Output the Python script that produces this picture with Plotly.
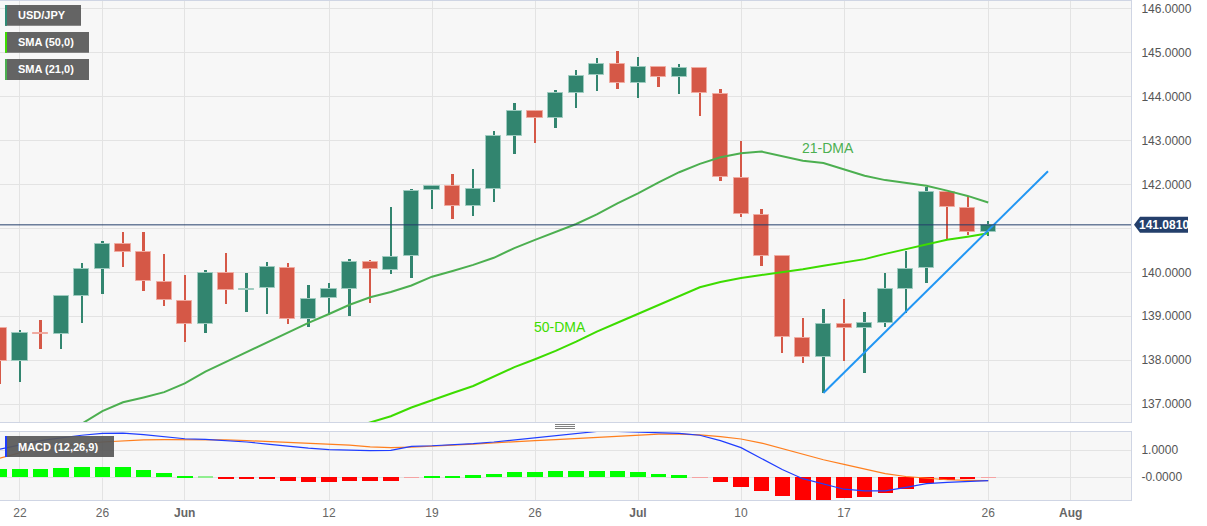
import plotly.graph_objects as go

# ---------------- data ----------------
day_index = list(range(-1, 48))  # trading-day index, 0 = 22 May
dates = ["May19", "May22", "May23", "May24", "May25", "May26", "May29", "May30", "May31", "Jun1", "Jun2",
         "Jun5", "Jun6", "Jun7", "Jun8", "Jun9", "Jun12", "Jun13", "Jun14", "Jun15", "Jun16",
         "Jun19", "Jun20", "Jun21", "Jun22", "Jun23", "Jun26", "Jun27", "Jun28", "Jun29", "Jun30",
         "Jul3", "Jul4", "Jul5", "Jul6", "Jul7", "Jul10", "Jul11", "Jul12", "Jul13", "Jul14",
         "Jul17", "Jul18", "Jul19", "Jul20", "Jul21", "Jul24", "Jul25", "Jul26"]
opens = [138.72, 137.98, 138.61, 138.59, 139.47, 140.08, 140.64, 140.46, 139.79, 139.35, 138.82,
         139.98, 139.60, 139.65, 140.09, 138.94, 139.41, 139.61, 140.23, 140.05, 140.38,
         141.88, 141.97, 141.52, 141.89, 143.11, 143.68, 143.51, 144.09, 144.50, 144.74,
         144.32, 144.67, 144.46, 144.65, 144.06, 142.14, 141.31, 140.37, 138.50, 138.07,
         138.82, 138.74, 138.84, 139.62, 140.09, 141.82, 141.47, 140.91]
highs = [138.75, 138.69, 138.92, 139.48, 140.21, 140.72, 140.91, 140.91, 140.42, 139.94, 140.05,
         140.44, 139.98, 140.23, 140.21, 139.71, 139.75, 140.30, 140.28, 141.48, 141.89,
         141.99, 142.24, 142.36, 143.22, 143.85, 143.70, 144.15, 144.61, 144.89, 145.04,
         144.91, 144.71, 144.74, 144.66, 144.18, 142.99, 141.44, 140.40, 138.95, 139.16,
         139.39, 139.10, 139.98, 140.49, 141.95, 141.84, 141.71, 141.17]
lows = [137.46, 137.49, 138.25, 138.25, 138.84, 139.50, 140.11, 139.58, 139.24, 138.42, 138.61,
        139.27, 139.10, 139.05, 138.82, 138.76, 139.03, 139.01, 139.30, 139.96, 139.87,
        141.44, 141.21, 141.29, 141.61, 142.69, 142.94, 143.28, 143.74, 144.12, 144.18,
        143.98, 144.21, 144.06, 143.55, 142.07, 141.27, 140.15, 138.17, 137.93, 137.25,
        137.99, 137.70, 138.76, 139.08, 139.75, 140.75, 140.85, 140.83]
closes = [137.98, 138.61, 138.59, 139.47, 140.07, 140.64, 140.47, 139.80, 139.36, 138.82, 139.98,
          139.60, 139.63, 140.11, 138.94, 139.39, 139.61, 140.23, 140.08, 140.36, 141.86,
          141.97, 141.51, 141.89, 143.10, 143.68, 143.51, 144.08, 144.48, 144.75, 144.32,
          144.67, 144.46, 144.65, 144.08, 142.16, 141.32, 140.38, 138.52, 138.07, 138.82,
          138.74, 138.84, 139.61, 140.08, 141.82, 141.48, 140.91, 141.08]

sma21_x = list(range(2, 48))
sma21 = [136.30, 136.55, 136.84, 137.04, 137.15, 137.27, 137.47, 137.74, 137.96, 138.18, 138.41,
         138.62, 138.85, 139.05, 139.26, 139.43, 139.55, 139.70, 139.90, 140.03, 140.17,
         140.33, 140.55, 140.74, 140.92, 141.10, 141.32, 141.57, 141.80, 142.05, 142.28,
         142.47, 142.62, 142.71, 142.75, 142.64, 142.54, 142.49, 142.35, 142.20, 142.10,
         142.03, 141.97, 141.86, 141.74, 141.59]
sma50_x = list(range(16, 48))
sma50 = [136.44, 136.58, 136.72, 136.92, 137.09, 137.25, 137.41, 137.63, 137.84, 138.02, 138.21,
         138.42, 138.65, 138.85, 139.05, 139.26, 139.46, 139.66, 139.78, 139.87, 139.94,
         140.00, 140.07, 140.15, 140.22, 140.30, 140.42, 140.53, 140.64, 140.74, 140.81, 140.89]

trend_x = [39, 49.9]
trend_y = [137.25, 142.30]
last_price = 141.081

macd_line = [1.03, 1.20, 1.35, 1.45, 1.55, 1.62, 1.63, 1.57, 1.50, 1.42, 1.40,
             1.36, 1.30, 1.22, 1.14, 1.07, 1.02, 1.00, 0.98, 0.99, 1.14,
             1.16, 1.19, 1.24, 1.30, 1.38, 1.46, 1.54, 1.62, 1.69, 1.69,
             1.67, 1.64, 1.62, 1.55, 1.35, 1.09, 0.70, 0.28, -0.06, -0.26,
             -0.45, -0.51, -0.51, -0.38, -0.24, -0.20, -0.16, -0.13]
macd_signal = [0.70, 0.90, 1.05, 1.15, 1.24, 1.30, 1.34, 1.38, 1.39, 1.39, 1.38,
               1.38, 1.35, 1.32, 1.29, 1.26, 1.22, 1.18, 1.12, 1.09, 1.11,
               1.14, 1.18, 1.22, 1.27, 1.32, 1.35, 1.39, 1.43, 1.48, 1.53,
               1.56, 1.59, 1.59, 1.56, 1.50, 1.41, 1.26, 1.05, 0.86, 0.64,
               0.47, 0.29, 0.13, 0.02, -0.05, -0.10, -0.12, -0.13]
macd_hist = [0.29, 0.29, 0.29, 0.33, 0.36, 0.38, 0.36, 0.27, 0.15, 0.04, 0.03,
             -0.04, -0.07, -0.07, -0.15, -0.19, -0.19, -0.15, -0.14, -0.13, -0.02,
             0.04, 0.04, 0.06, 0.13, 0.18, 0.19, 0.22, 0.23, 0.24, 0.21,
             0.17, 0.11, 0.07, -0.01, -0.18, -0.35, -0.51, -0.72, -0.86, -0.85,
             -0.79, -0.73, -0.60, -0.46, -0.23, -0.10, -0.06, -0.01]

tick_vals = [0, 4, 8, 15, 20, 25, 30, 35, 40, 47, 51]
tick_text = ["22", "26", "<b>Jun</b>", "12", "19", "26", "<b>Jul</b>", "10", "17", "26", "<b>Aug</b>"]
price_ticks = [137, 138, 139, 140, 141, 142, 143, 144, 145, 146]
price_tick_text = ["137.0000", "138.0000", "139.0000", "140.0000", "", "142.0000",
                   "143.0000", "144.0000", "145.0000", "146.0000"]

# ---------------- style ----------------
W, H = 1207, 526
ML, MR, MT, MB = 0, 76, 1, 26
PW, PH = W - ML - MR, H - MT - MB
GREEN = "#32856f"
GREEN_EDGE = "#9dcbbf"
RED = "#d55847"
RED_EDGE = "#f0aaa0"
GRID = "#e3e3e3"
BORDER = "#cfd5e4"
NAVY = "#243f6b"
FONT = "Liberation Sans, Arial, sans-serif"


def px(x):
    return (x - ML) / PW


def py(y):
    return (H - MB - y) / PH


up = [c >= o for o, c in zip(opens, closes)]
body_col = [GREEN if u else RED for u in up]
edge_col = [GREEN_EDGE if u else RED_EDGE for u in up]
body_base = [min(o, c) for o, c in zip(opens, closes)]
body_h = [max(abs(c - o), 0.025) for o, c in zip(opens, closes)]
wick_base = lows
wick_h = [h - l for h, l in zip(highs, lows)]

hist_col = []
for v in macd_hist:
    if v >= 0:
        hist_col.append("#90ee90" if v <= 0.03 else "#00ff00")
    else:
        hist_col.append("#f5a3a3" if v >= -0.03 else "#ff0000")

fig = go.Figure()

# SMA lines
fig.add_trace(go.Scatter(x=sma21_x, y=sma21, mode="lines", line=dict(color="#4caf50", width=2),
                         xaxis="x", yaxis="y", hoverinfo="skip"))
fig.add_trace(go.Scatter(x=sma50_x, y=sma50, mode="lines", line=dict(color="#3ddc00", width=2),
                         xaxis="x", yaxis="y", hoverinfo="skip"))

# candles: wicks and bodies
fig.add_trace(go.Bar(x=day_index, y=wick_h, base=wick_base, width=0.11,
                     marker=dict(color=body_col, line=dict(width=0)), xaxis="x", yaxis="y"))
fig.add_trace(go.Bar(x=day_index, y=body_h, base=body_base, width=0.73,
                     marker=dict(color=body_col, line=dict(color=edge_col, width=1)), xaxis="x", yaxis="y"))

# trend line
fig.add_trace(go.Scatter(x=trend_x, y=trend_y, mode="lines", line=dict(color="#2196f3", width=2),
                         xaxis="x", yaxis="y", hoverinfo="skip"))

# MACD
fig.add_trace(go.Bar(x=day_index, y=macd_hist, width=0.75, marker=dict(color=hist_col, line=dict(width=0)),
                     xaxis="x2", yaxis="y2"))
fig.add_trace(go.Scatter(x=day_index, y=macd_signal, mode="lines", line=dict(color="#ff7f1e", width=1.2),
                         xaxis="x2", yaxis="y2", hoverinfo="skip"))
fig.add_trace(go.Scatter(x=day_index, y=macd_line, mode="lines", line=dict(color="#1f3dff", width=1.2),
                         xaxis="x2", yaxis="y2", hoverinfo="skip"))

xr = [-0.97, 53.93]
axis_common = dict(showgrid=True, gridcolor=GRID, gridwidth=1, zeroline=False, showline=True,
                   linecolor=BORDER, linewidth=1, mirror=True, automargin=False)

shapes = [
    # current price line
    dict(type="line", xref="paper", yref="y", x0=0, x1=1, y0=last_price, y1=last_price,
         line=dict(color=NAVY, width=1)),
    # price label with arrow
    dict(type="path", xref="paper", yref="y", xsizemode="pixel", ysizemode="pixel",
         xanchor=1, yanchor=last_price,
         path="M 3,0 L 9,-8 L 57,-8 L 57,8 L 9,8 Z", fillcolor=NAVY, line=dict(width=0)),
]
# drag handle between panels
for yy in (424.5, 426.5, 428.5):
    shapes.append(dict(type="line", xref="paper", yref="paper", x0=px(555), x1=px(575), y0=py(yy), y1=py(yy),
                       line=dict(color="#808080", width=1)))

annotations = [
    dict(xref="paper", yref="y", x=1, xshift=33, y=last_price, text="<b>141.0810</b>", showarrow=False,
         xanchor="center", yanchor="middle", font=dict(color="white", size=12, family=FONT)),
    dict(xref="x", yref="y", x=39.2, y=142.83, text="21-DMA", showarrow=False,
         font=dict(color="#4caf50", size=14, family=FONT)),
    dict(xref="x", yref="y", x=26.2, y=138.76, text="50-DMA", showarrow=False,
         font=dict(color="#3ddc00", size=14, family=FONT)),
]

legend_items = [("USD/JPY", "#2e8a75", 5, 25.7, 81),
                ("SMA (50,0)", "#3ddc00", 32, 52.7, 89),
                ("SMA (21,0)", "#4caf50", 59, 80, 89),
                ("MACD (12,26,9)", "#1f3dff", 436, 457, 114)]
for label, col, y0, y1, x1 in legend_items:
    shapes.append(dict(type="rect", xref="paper", yref="paper", x0=px(5), x1=px(x1), y0=py(y1), y1=py(y0),
                       fillcolor="rgba(88,88,88,0.93)", line=dict(width=0)))
    shapes.append(dict(type="rect", xref="paper", yref="paper", x0=px(5), x1=px(7), y0=py(y1), y1=py(y0),
                       fillcolor=col, line=dict(width=0)))
    annotations.append(dict(xref="paper", yref="paper", x=px(16), y=py((y0 + y1) / 2), text="<b>%s</b>" % label,
                            showarrow=False, xanchor="left", yanchor="middle",
                            font=dict(color="white", size=11, family=FONT)))

fig.update_layout(
    width=W, height=H,
    margin=dict(l=ML, r=MR, t=MT, b=MB, autoexpand=False),
    paper_bgcolor="white", plot_bgcolor="#f7f7f7",
    showlegend=False, barmode="overlay", bargap=0,
    font=dict(family=FONT, size=12, color="#555555"),
    xaxis=dict(domain=[0, 1], anchor="y", range=xr, tickvals=tick_vals, ticktext=tick_text,
               showticklabels=False, **axis_common),
    xaxis2=dict(domain=[0, 1], anchor="y2", range=xr, matches="x", tickvals=tick_vals, ticktext=tick_text,
                showticklabels=True, tickfont=dict(size=12, color="#666666", family=FONT),
                ticks="outside", ticklen=2, tickcolor="rgba(0,0,0,0)", **axis_common),
    yaxis=dict(domain=[py(422), 1], anchor="x", side="right", range=[136.59, 146.18],
               tickvals=price_ticks, ticktext=price_tick_text, ticks="outside", ticklen=7,
               tickcolor="rgba(0,0,0,0)", tickfont=dict(size=12, color="#555555", family=FONT),
               **axis_common),
    yaxis2=dict(domain=[0, py(432)], anchor="x2", side="right", range=[-0.85, 1.67],
                tickvals=[0, 1], ticktext=["-0.0000", "1.0000"], ticks="outside", ticklen=7,
                tickcolor="rgba(0,0,0,0)", tickfont=dict(size=12, color="#555555", family=FONT),
                **axis_common),
    shapes=shapes, annotations=annotations,
)

fig.write_html("out.html", config={"displayModeBar": False},
               post_script="document.body.style.margin='0';document.body.style.overflow='hidden';")
